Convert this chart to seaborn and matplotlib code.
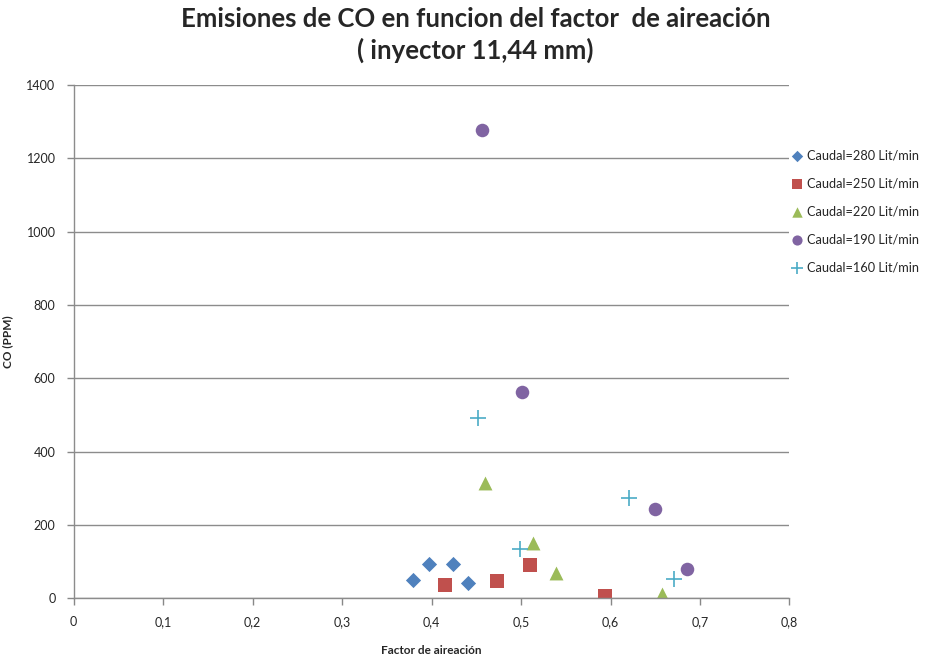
import pandas as pd
import matplotlib
matplotlib.use("Agg")
import matplotlib.pyplot as plt
import seaborn as sns

# --- Data ---
labels = ["Caudal=280 Lit/min", "Caudal=250 Lit/min", "Caudal=220 Lit/min",
          "Caudal=190 Lit/min", "Caudal=160 Lit/min"]

x_280 = [0.379, 0.397, 0.424, 0.441]
y_280 = [50, 95, 93, 42]
x_250 = [0.415, 0.473, 0.510, 0.594]
y_250 = [36, 48, 92, 6]
x_220 = [0.460, 0.513, 0.539, 0.657]
y_220 = [314, 150, 68, 12]
x_190 = [0.456, 0.501, 0.650, 0.685]
y_190 = [1277, 563, 243, 79]
x_160 = [0.452, 0.499, 0.621, 0.671]
y_160 = [491, 134, 273, 52]

x_ticks = [0, 0.1, 0.2, 0.3, 0.4, 0.5, 0.6, 0.7, 0.8]
y_ticks = [0, 200, 400, 600, 800, 1000, 1200, 1400]

series = [(x_280, y_280), (x_250, y_250), (x_220, y_220), (x_190, y_190), (x_160, y_160)]
colors = ["#4F81BD", "#C0504D", "#9BBB59", "#8064A2", "#4BACC6"]
markers = ["D", "s", "^", "o", "+"]
sizes = [60, 100, 100, 95, 130]

sns.set_style("white")
plt.rcParams['font.family'] = ['Lato', 'DejaVu Sans']

fig = plt.figure(figsize=(9.31, 6.59), dpi=100)
ax = fig.add_axes([0.079, 0.092, 0.769, 0.779])

for (xs, ys), lab, c, m, s in zip(series, labels, colors, markers, sizes):
    df = pd.DataFrame({"x": xs, "y": ys})
    if m == "+":
        sns.scatterplot(data=df, x="x", y="y", ax=ax, color=c, marker=m, s=s,
                        linewidth=1.2, label=lab)
    else:
        sns.scatterplot(data=df, x="x", y="y", ax=ax, color=c, marker=m, s=s,
                        linewidth=0, label=lab)

ax.set_xlim(0, 0.8)
ax.set_ylim(0, 1400)
ax.set_xticks(x_ticks)
ax.set_xticklabels([("%g" % v).replace(".", ",") for v in x_ticks])
ax.set_yticks(y_ticks)
ax.set_yticklabels([str(v) for v in y_ticks])
ax.tick_params(axis="both", labelsize=9, length=5, width=1, color="#888888",
               direction="out", bottom=True, left=True, pad=8)

ax.yaxis.grid(True, color="#8c8c8c", linewidth=1)
ax.xaxis.grid(False)
ax.set_axisbelow(True)
for side in ["top", "right"]:
    ax.spines[side].set_visible(False)
for side in ["left", "bottom"]:
    ax.spines[side].set_color("#8c8c8c")
    ax.spines[side].set_linewidth(1)

ax.set_xlabel("Factor de aireación", fontsize=8.5, fontweight="bold", labelpad=12)
ax.set_ylabel("CO (PPM)", fontsize=8.5, fontweight="bold")
ax.yaxis.set_label_coords(-0.085, 0.5)

fig.suptitle("Emisiones de CO en funcion del factor  de aireación\n( inyector 11,44 mm)",
             fontsize=18.5, fontweight="bold", x=0.511, y=0.99, linespacing=1.35)

ax.legend(loc="upper left", bbox_to_anchor=(0.993, 0.884), frameon=False,
          fontsize=9.2, handletextpad=0.15, labelspacing=1.25, borderaxespad=0,
          handlelength=1.2, markerscale=0.75)

fig.savefig("out.png", dpi=100)
